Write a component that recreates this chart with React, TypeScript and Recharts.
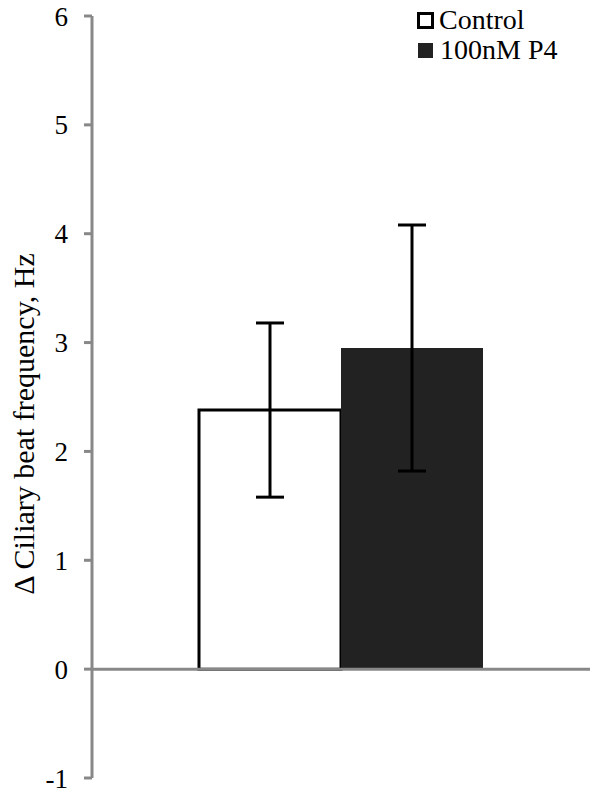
import { BarChart, Bar, XAxis, YAxis, ErrorBar, ReferenceLine, Label } from "recharts";

const categories = [""];
const controlValues = [2.38];
const controlErrors = [0.8];
const p4Values = [2.95];
const p4Errors = [1.13];
const yTicks = [-1, 0, 1, 2, 3, 4, 5, 6];

const series = [
  { key: "control", name: "Control", fill: "#ffffff" },
  { key: "p4", name: "100nM P4", fill: "#222222" },
];

const data = categories.map((c, i) => ({
  name: c,
  control: controlValues[i],
  controlErr: controlErrors[i],
  p4: p4Values[i],
  p4Err: p4Errors[i],
}));

const font = "'Liberation Serif', 'Times New Roman', serif";

function LegendBox() {
  return (
    <div
      style={{
        position: "absolute",
        top: 5,
        left: 417,
        fontFamily: font,
        fontSize: 28,
        color: "#000",
        lineHeight: "30px",
      }}
    >
      {series.map((s, i) => (
        <div key={s.key} style={{ display: "flex", alignItems: "center" }}>
          <span
            style={{
              display: "inline-block",
              width: i === 0 ? 11 : 15,
              height: i === 0 ? 11 : 15,
              background: s.fill,
              border: i === 0 ? "3px solid #000" : "none",
              marginRight: i === 0 ? 5 : 7,
              marginLeft: i === 0 ? 0 : 1,
            }}
          />
          <span>{s.name}</span>
        </div>
      ))}
    </div>
  );
}

export default function App() {
  return (
    <div style={{ position: "absolute", left: 0, top: 0, width: 600, height: 797, background: "#fff" }}>
      <BarChart
        width={600}
        height={797}
        data={data}
        margin={{ top: 16, right: 10, bottom: 19, left: 0 }}
        barGap={0}
        barSize={142}
      >
        <XAxis dataKey="name" hide height={0} />
        <YAxis
          width={92}
          domain={[-1, 6]}
          ticks={yTicks}
          interval={0}
          allowDataOverflow
          axisLine={{ stroke: "#888888", strokeWidth: 3 }}
          tickLine={{ stroke: "#888888", strokeWidth: 3 }}
          tickSize={8}
          tickMargin={16}
          fontSize={27}
          tick={{ fill: "#000", fontSize: 27, fontFamily: font }}
        >
          <Label
            content={() => (
              <text
                x={0}
                y={0}
                transform="translate(34, 424) rotate(-90)"
                textAnchor="middle"
                fontSize={30}
                fontFamily={font}
                fill="#000"
              >
                Δ Ciliary beat frequency, Hz
              </text>
            )}
          />
        </YAxis>
        <Bar dataKey="control" name="Control" fill="#ffffff" stroke="#000000" strokeWidth={3} isAnimationActive={false}>
          <ErrorBar dataKey="controlErr" width={14} stroke="#000" strokeWidth={3} isAnimationActive={false} />
        </Bar>
        <Bar dataKey="p4" name="100nM P4" fill="#222222" isAnimationActive={false}>
          <ErrorBar dataKey="p4Err" width={14} stroke="#000" strokeWidth={3} isAnimationActive={false} />
        </Bar>
        <ReferenceLine y={0} stroke="#888888" strokeWidth={3} />
      </BarChart>
      <LegendBox />
    </div>
  );
}
